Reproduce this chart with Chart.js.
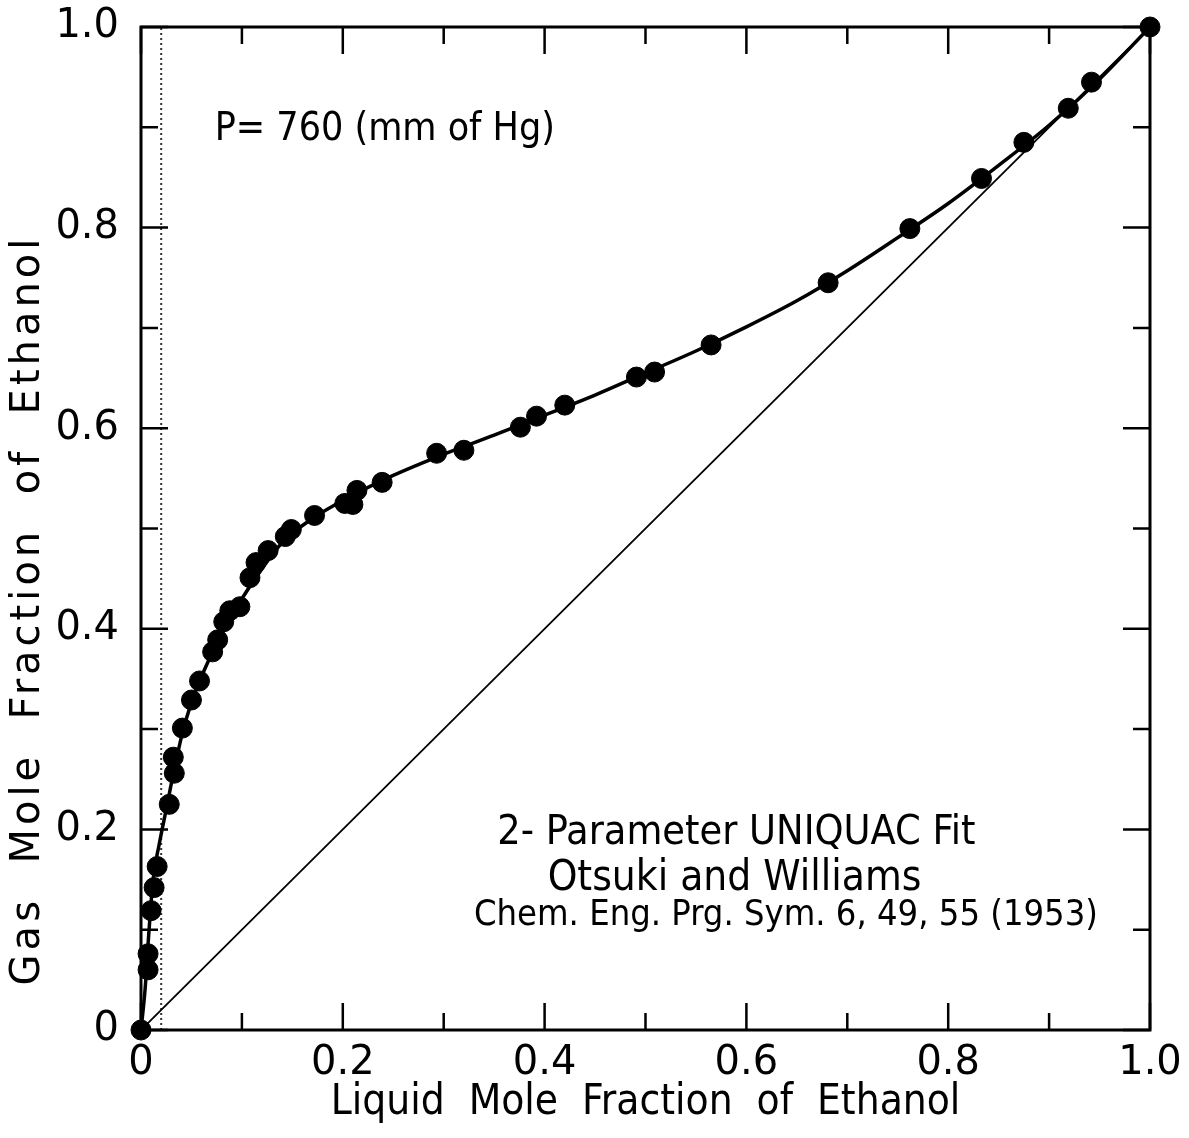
<!DOCTYPE html>
<html lang="en">
<head>
    <meta charset="UTF-8">
    <title>Ethanol VLE - UNIQUAC fit</title>
    <script src="https://cdn.jsdelivr.net/npm/chart.js"></script>
    <style>
        body { margin: 0; background: #fff; }
        .chart-container { position: relative; width: 1189px; height: 1138px; }
    </style>
</head>
<body>
    <div class="chart-container">
        <canvas id="vleChart"></canvas>
    </div>

    <script>
        // measured points (Otsuki and Williams)
        const liquidX = [0, 0.007, 0.007, 0.010, 0.013, 0.016, 0.028, 0.033, 0.032, 0.041, 0.050, 0.058,
            0.071, 0.076, 0.082, 0.088, 0.098, 0.108, 0.114, 0.126, 0.143, 0.149, 0.172, 0.202, 0.210,
            0.214, 0.239, 0.293, 0.320, 0.376, 0.392, 0.420, 0.491, 0.509, 0.565, 0.681, 0.762, 0.833,
            0.875, 0.919, 0.942, 1.000];
        const gasY = [0, 0.060, 0.076, 0.119, 0.142, 0.163, 0.225, 0.256, 0.272, 0.301, 0.329, 0.348,
            0.377, 0.389, 0.407, 0.418, 0.422, 0.451, 0.466, 0.478, 0.492, 0.499, 0.513, 0.525, 0.524,
            0.538, 0.546, 0.575, 0.578, 0.601, 0.612, 0.623, 0.651, 0.656, 0.683, 0.745, 0.799, 0.849,
            0.885, 0.919, 0.945, 1.000];

        // 2-parameter UNIQUAC curve
        const fitX = [0, 0.004, 0.008, 0.012, 0.018, 0.025, 0.033, 0.042, 0.055, 0.07, 0.085, 0.1, 0.12,
            0.14, 0.17, 0.2, 0.25, 0.3, 0.35, 0.4, 0.45, 0.5, 0.55, 0.6, 0.65, 0.7, 0.75, 0.8, 0.85, 0.9, 0.95, 1];
        const fitY = [0, 0.04, 0.10, 0.15, 0.185, 0.22, 0.26, 0.30, 0.34, 0.375, 0.405, 0.43, 0.46,
            0.486, 0.51, 0.528, 0.553, 0.574, 0.593, 0.613, 0.633, 0.655, 0.677, 0.701, 0.727, 0.757,
            0.79, 0.824, 0.862, 0.902, 0.948, 1];

        const diagX = [0, 1];
        const diagY = [0, 1];
        const guideX = [0.02, 0.02];
        const guideY = [0, 1];

        const tickValues = [0, 0.1, 0.2, 0.3, 0.4, 0.5, 0.6, 0.7, 0.8, 0.9, 1.0];
        const tickLabels = {0: '0', 0.2: '0.2', 0.4: '0.4', 0.6: '0.6', 0.8: '0.8', 1: '1.0'};

        const notes = [
            {text: 'P= 760 (mm of Hg)', x: 0.073, y: 0.897, size: 39},
            {text: '2- Parameter UNIQUAC Fit', x: 0.353, y: 0.196, size: 41},
            {text: 'Otsuki and Williams', x: 0.403, y: 0.150, size: 42},
            {text: 'Chem. Eng. Prg. Sym. 6, 49, 55 (1953)', x: 0.330, y: 0.114, size: 36}
        ];
        const yTitle = 'Gas  Mole  Fraction  of  Ethanol';

        const narrowFont = "'DejaVu Sans Condensed', 'DejaVu Sans', sans-serif";
        const wideFont = "'DejaVu Sans', sans-serif";

        const toPoints = (xs, ys) => xs.map((x, i) => ({x: x, y: ys[i]}));

        function labelFor(v) {
            const key = Math.round(v * 10) / 10;
            return tickLabels[key] !== undefined ? tickLabels[key] : '';
        }

        // frame + inward ticks on all four sides, y title and the text notes
        const framePlugin = {
            id: 'frame',
            afterDraw(chart) {
                const ctx = chart.ctx;
                const a = chart.chartArea;
                const xs = chart.scales.x, ys = chart.scales.y;
                ctx.save();
                ctx.strokeStyle = '#000';
                ctx.lineWidth = 3;
                ctx.strokeRect(a.left, a.top, a.right - a.left, a.bottom - a.top);
                ctx.lineWidth = 2.5;
                tickValues.forEach((v, i) => {
                    const len = i % 2 === 0 ? 27 : 17;
                    const px = xs.getPixelForValue(v);
                    const py = ys.getPixelForValue(v);
                    ctx.beginPath();
                    ctx.moveTo(px, a.bottom); ctx.lineTo(px, a.bottom - len);
                    ctx.moveTo(px, a.top); ctx.lineTo(px, a.top + len);
                    ctx.moveTo(a.left, py); ctx.lineTo(a.left + len, py);
                    ctx.moveTo(a.right, py); ctx.lineTo(a.right - len, py);
                    ctx.stroke();
                });
                ctx.fillStyle = '#000';
                ctx.textAlign = 'left';
                ctx.textBaseline = 'middle';
                notes.forEach(n => {
                    ctx.font = n.size + 'px ' + narrowFont;
                    ctx.fillText(n.text, xs.getPixelForValue(n.x), ys.getPixelForValue(n.y));
                });
                // y axis title, spaced out like the lettering guide
                ctx.translate(29, 610);
                ctx.rotate(-Math.PI / 2);
                ctx.textAlign = 'center';
                ctx.font = '40px ' + wideFont;
                ctx.letterSpacing = '4px';
                ctx.fillText(yTitle, 0, 0);
                ctx.restore();
            }
        };

        const ctx = document.getElementById('vleChart').getContext('2d');
        new Chart(ctx, {
            type: 'scatter',
            data: {
                datasets: [
                    {
                        label: 'Data',
                        data: toPoints(liquidX, gasY),
                        backgroundColor: '#000',
                        borderColor: '#000',
                        pointRadius: 10,
                        showLine: false,
                        clip: false
                    },
                    {
                        label: 'UNIQUAC fit',
                        data: toPoints(fitX, fitY),
                        borderColor: '#000',
                        borderWidth: 3.5,
                        pointRadius: 0,
                        showLine: true,
                        cubicInterpolationMode: 'monotone'
                    },
                    {
                        label: 'x = y',
                        data: toPoints(diagX, diagY),
                        borderColor: '#000',
                        borderWidth: 1.8,
                        pointRadius: 0,
                        showLine: true
                    },
                    {
                        label: 'guide',
                        data: toPoints(guideX, guideY),
                        borderColor: '#333',
                        borderWidth: 2,
                        borderDash: [2, 3],
                        pointRadius: 0,
                        showLine: true
                    }
                ]
            },
            options: {
                responsive: true,
                maintainAspectRatio: false,
                animation: false,
                layout: { padding: { top: 27, right: 39, left: 0, bottom: 0 } },
                plugins: {
                    legend: { display: false },
                    tooltip: { enabled: false }
                },
                scales: {
                    x: {
                        min: 0,
                        max: 1,
                        afterFit: s => {
                            s.height = 108;
                            s.paddingLeft = 0;
                            s.paddingRight = 0;
                        },
                        afterBuildTicks: s => { s.ticks = tickValues.map(v => ({value: v})); },
                        grid: { display: false },
                        border: { display: false },
                        ticks: {
                            callback: v => labelFor(v),
                            autoSkip: false,
                            maxRotation: 0,
                            padding: 2,
                            color: '#000',
                            font: { family: wideFont, size: 40 }
                        },
                        title: {
                            display: true,
                            text: 'Liquid  Mole  Fraction  of  Ethanol',
                            color: '#000',
                            padding: { top: 0, bottom: 10 },
                            font: { family: narrowFont, size: 42 }
                        }
                    },
                    y: {
                        min: 0,
                        max: 1,
                        afterFit: s => {
                            s.width = 141;
                            s.paddingTop = 0;
                            s.paddingBottom = 0;
                        },
                        afterBuildTicks: s => { s.ticks = tickValues.map(v => ({value: v})); },
                        grid: { display: false },
                        border: { display: false },
                        ticks: {
                            callback: v => labelFor(v),
                            autoSkip: false,
                            padding: 14,
                            color: '#000',
                            font: { family: wideFont, size: 40 }
                        }
                    }
                }
            },
            plugins: [framePlugin]
        });
    </script>
</body>
</html>
